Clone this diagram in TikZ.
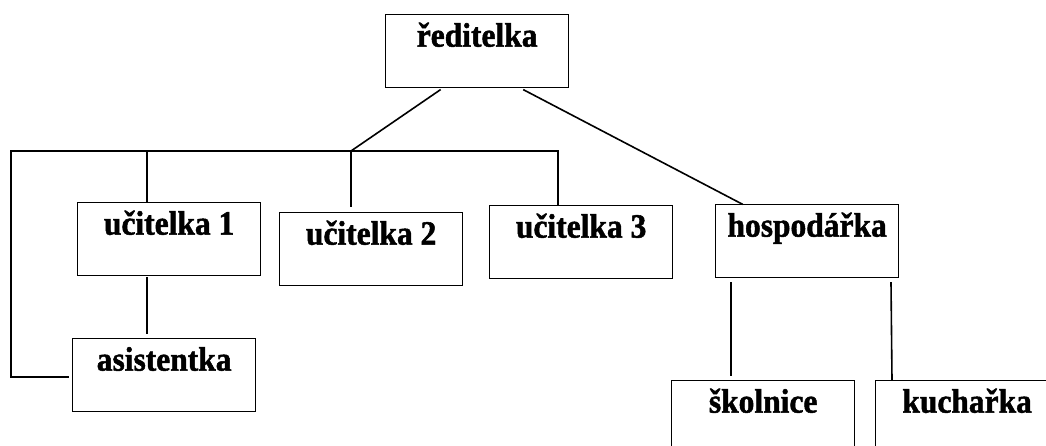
\documentclass[tikz,border=0pt]{standalone}
\usepackage{fontspec}
\setmainfont{Liberation Serif}[BoldFeatures={FakeBold=1.5}]
\usetikzlibrary{calc}
% role names are set slightly taller than wide
\newcommand{\rolename}[1]{\scalebox{1}[1.08]{#1}}
\begin{document}
\begin{tikzpicture}[x=1pt,y=-1pt,
  line cap=rect,
  role/.style={draw, line width=1.3pt, anchor=north west, inner xsep=0pt, inner ysep=0pt,
    minimum width=183pt, text height=32pt, text depth=41pt,
    font=\fontsize{31.5}{31.5}\selectfont\bfseries},
  link/.style={line width=1.6pt}]
\useasboundingbox (0,0) rectangle (1046,445);
\clip (0,0) rectangle (1046,445);

% staff boxes
\node[role] (red)  at (385,14)  {\rolename{ředitelka}};
\node[role] (uc1)  at (77,202)  {\rolename{učitelka 1}};
\node[role] (uc2)  at (279,212) {\rolename{učitelka 2}};
\node[role] (uc3)  at (489,205) {\rolename{učitelka 3}};
\node[role] (hosp) at (715,204) {\rolename{hospodářka}};
\node[role] (asi)  at (72,338)  {\rolename{asistentka}};
\node[role] (sko)  at (671,380) {\rolename{školnice}};
\node[role] (kuch) at (875,380) {\rolename{kuchařka}};

% junctions and loose line ends
\coordinate (redL) at (440,90);
\coordinate (redR) at (524,90);
\coordinate (junc) at (351,151);
\coordinate (barL) at (11,151);
\coordinate (barR) at (558,151);
\coordinate (asiEnd) at (68,377);
\coordinate (uc1Low) at (147,278);
\coordinate (asiTop) at (147,333);
\coordinate (hospL) at (731,283);
\coordinate (skoTop) at (731,375);
\coordinate (hospR) at (891,283);

% connectors
\draw[link] (redL) -- (junc);
\draw[link] (redR) -- (hosp.north west -| 742,0);
\draw[link] (barL) -- (barR) -- (uc3.north -| barR);
\draw[link] (barL -| 147,0) -- (uc1.north -| 147,0);
\draw[link] (junc) -- (351,206);
\draw[link] (barL) -- (barL |- asiEnd) -- (asiEnd);
\draw[link] (uc1Low) -- (asiTop);
\draw[link] (hospL) -- (skoTop);
\draw[link] (hospR) -- (kuch.north -| 892,0);
\end{tikzpicture}
\end{document}
